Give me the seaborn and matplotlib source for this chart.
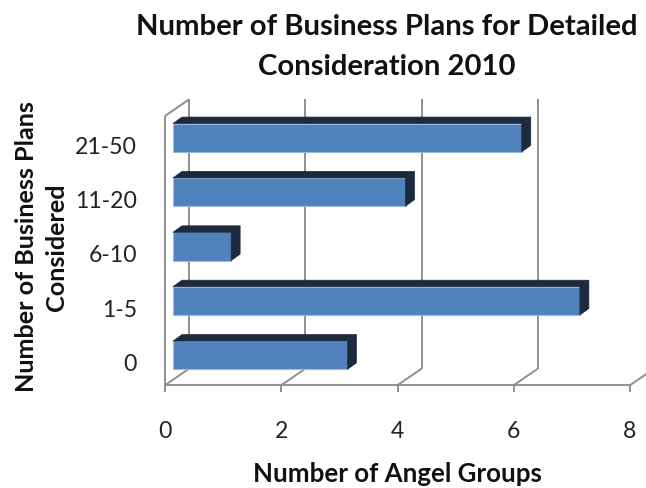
import matplotlib
matplotlib.use("Agg")
import matplotlib.pyplot as plt
from matplotlib.transforms import offset_copy
from matplotlib.patches import Polygon
import seaborn as sns
import pandas as pd

# Chart data
categories = ["21-50", "11-20", "6-10", "1-5", "0"]
angel_groups = [6, 4, 1, 7, 3]
x_ticks = [0, 2, 4, 6, 8]

title = "Number of Business Plans for Detailed\nConsideration 2010"
x_label = "Number of Angel Groups"
y_label = "Number of Business Plans\nConsidered"

sns.set_style("white")
plt.rcParams["font.family"] = ["Lato", "DejaVu Sans"]

FRONT_COLOR = "#4F81BD"
EDGE_COLOR = "#9DB9DF"
DARK = "#1C2A3F"
GRID = "#8F8F8F"

W, H = 646, 488
fig = plt.figure(figsize=(W / 100, H / 100), dpi=100)
ax = fig.add_axes([173 / W, 1 - 379.7 / H, 465 / W, 269.2 / H])

df = pd.DataFrame({"category": categories, "groups": angel_groups})
sns.barplot(data=df, x="groups", y="category", orient="h", color=FRONT_COLOR,
            width=0.52, saturation=1, edgecolor=EDGE_COLOR, linewidth=0.8,
            ax=ax, zorder=3)

y_floor, y_top = 4.45, -0.5
ax.set_xlim(0, 8)
ax.set_ylim(y_floor, y_top)
ax.axis("off")

# pixel -> data conversion for the pseudo-3D depth offsets
o = ax.transData.transform((0, 0))
sx = ax.transData.transform((1, 0))[0] - o[0]
sy = ax.transData.transform((0, 1))[1] - o[1]


def shift(x, y, d):
    return (x + d[0] / sx, y + d[1] / sy)


FRONT = (-8, -5.5)   # front edge of the floor / left wall
BACK = (16, 11)      # back wall plane
DEPTH = (9, 6.5)     # bar thickness


def seg(p, q, z=1):
    ax.plot([p[0], q[0]], [p[1], q[1]], color=GRID, lw=1.4, clip_on=False,
            solid_capstyle="butt", zorder=z)


# back wall gridlines, floor diagonals and tick marks
for xv in x_ticks:
    seg(shift(xv, y_floor, BACK), shift(xv, y_top, BACK))
    seg(shift(xv, y_floor, FRONT), shift(xv, y_floor, BACK))
    seg(shift(xv, y_floor, FRONT), shift(xv, y_floor, (FRONT[0], FRONT[1] - 7)))
# floor front edge and left wall
seg(shift(0, y_floor, FRONT), shift(8, y_floor, FRONT))
seg(shift(0, y_floor, FRONT), shift(0, y_top, FRONT))
seg(shift(0, y_top, FRONT), shift(0, y_top, BACK))

# top and side faces of each bar
for bar in list(ax.patches):
    x0, yb = bar.get_x(), bar.get_y()
    x1 = x0 + bar.get_width()
    top = min(yb, yb + bar.get_height())
    bottom = max(yb, yb + bar.get_height())
    top_face = [(x0, top), (x1, top), shift(x1, top, DEPTH), shift(x0, top, DEPTH)]
    side_face = [(x1, top), (x1, bottom), shift(x1, bottom, DEPTH), shift(x1, top, DEPTH)]
    for face in (top_face, side_face):
        ax.add_patch(Polygon(face, closed=True, facecolor=DARK, edgecolor=DARK,
                             lw=0.5, zorder=3, clip_on=False))

renderer = fig.canvas.get_renderer()


def fit(t, target, dim=0):
    bb = t.get_window_extent(renderer)
    size = bb.width if dim == 0 else bb.height
    t.set_fontsize(t.get_fontsize() * target / size)
    return t.get_fontsize()


# category labels
ytr = offset_copy(ax.transData, fig=fig, x=-36, y=-9.5, units="dots")
ylabels = [ax.text(0, i, c, transform=ytr, ha="right", va="center",
                   fontsize=16, color="#222222") for i, c in enumerate(categories)]
tick_size = fit(ylabels[0], 62)
for t in ylabels:
    t.set_fontsize(tick_size)

# value labels along the floor
xtr = offset_copy(ax.transData, fig=fig, x=-8, y=-52.3, units="dots")
for xv in x_ticks:
    ax.text(xv, y_floor, str(xv), transform=xtr, ha="center", va="center",
            fontsize=tick_size, color="#222222")

t_title = fig.text(387 / W, 1 - 47 / H, title, ha="center", va="center",
                   fontweight="bold", fontsize=18, linespacing=1.62, color="#111111")
fit(t_title, 503)

t_x = fig.text(397 / W, 1 - 474 / H, x_label, ha="center", va="center",
               fontweight="bold", fontsize=16, color="#111111")
fit(t_x, 289)

t_y = fig.text(41.5 / W, 1 - 247 / H, y_label, ha="center", va="center",
               rotation=90, fontweight="bold", fontsize=16, linespacing=1.35,
               color="#111111")
fit(t_y, 294, dim=1)

fig.savefig("out.png", dpi=100, facecolor="white")
